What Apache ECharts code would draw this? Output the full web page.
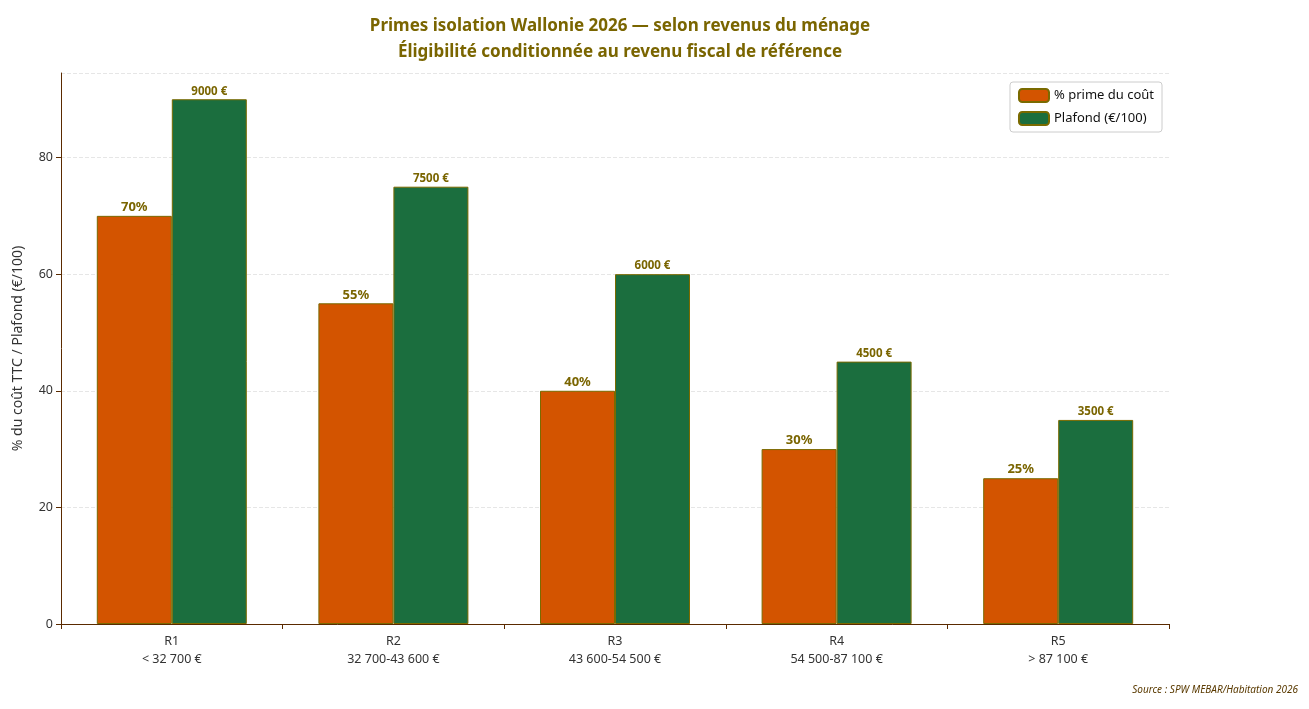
<!DOCTYPE html>
<html><head><meta charset="utf-8">
<script src="https://cdn.jsdelivr.net/npm/echarts@6/dist/echarts.min.js"></script>
<style>html,body{margin:0;padding:0;background:#fff}#c{width:1309px;height:709px}</style>
</head><body><div id="c"></div>
<script>
const categories = ['R1\n< 32 700 €','R2\n32 700-43 600 €','R3\n43 600-54 500 €','R4\n54 500-87 100 €','R5\n> 87 100 €'];
const primePct = [70,55,40,30,25];
const plafond = [90,75,60,45,35];
const plafondLabels = ['9000 €','7500 €','6000 €','4500 €','3500 €'];
const F = 'Noto Sans';
const chart = echarts.init(document.getElementById('c'));
chart.setOption({
  animation:false,
  textStyle:{fontFamily:F},
  title:{text:'Primes isolation Wallonie 2026 — selon revenus du ménage\nÉligibilité conditionnée au revenu fiscal de référence',
    left:615, top:8, textAlign:'center',
    textStyle:{fontFamily:F,fontSize:17,fontWeight:'bold',color:'#7a6500',lineHeight:26}},
  legend:{right:147, top:82, orient:'vertical', itemWidth:30, itemHeight:13, itemGap:8,
    padding:[6,8], borderColor:'#ccc', borderWidth:1, borderRadius:3,
    textStyle:{fontFamily:F,fontSize:13,color:'#111'}},
  grid:{left:61, right:140, top:73, bottom:85},
  graphic:[{type:'text', right:11, top:685, style:{text:'Source : SPW MEBAR/Habitation 2026', fontFamily:F, fontSize:10, fontStyle:'italic', fill:'#5a3a00'}}],
  xAxis:{type:'category', data:categories,
    axisLine:{lineStyle:{color:'#5a2a00'}}, axisTick:{show:true,alignWithLabel:false,lineStyle:{color:'#5a2a00'}},
    axisLabel:{fontFamily:F,fontSize:12.5,color:'#333',lineHeight:18,margin:8}},
  yAxis:{type:'value', min:0, max:94.5, interval:20,
    name:'% du coût TTC / Plafond (€/100)', nameLocation:'middle', nameGap:36,
    nameTextStyle:{fontFamily:F,fontSize:14,color:'#333'},
    axisLine:{show:true,lineStyle:{color:'#5a2a00'}}, axisTick:{show:true,lineStyle:{color:'#5a2a00'}},
    axisLabel:{fontFamily:F,fontSize:12.5,color:'#333',showMaxLabel:false},
    splitLine:{lineStyle:{type:'dashed',color:'#e6e6e6'}}},
  series:[
    {name:'% prime du coût', type:'bar', data:primePct, barWidth:75, barGap:'0%',
     itemStyle:{color:'#d35400',borderColor:'#7a6a00',borderWidth:1},
     label:{show:true,position:'top',formatter:'{c}%',fontFamily:F,fontWeight:'bold',fontSize:13,color:'#7a6500',distance:2}},
    {name:'Plafond (€/100)', type:'bar', data:plafond, barWidth:75,
     itemStyle:{color:'#1b6e3e',borderColor:'#7a6a00',borderWidth:1},
     label:{show:true,position:'top',formatter:p=>plafondLabels[p.dataIndex],fontFamily:F,fontWeight:'bold',fontSize:11.5,color:'#7a6500',distance:2}}
  ]
});
</script></body></html>
